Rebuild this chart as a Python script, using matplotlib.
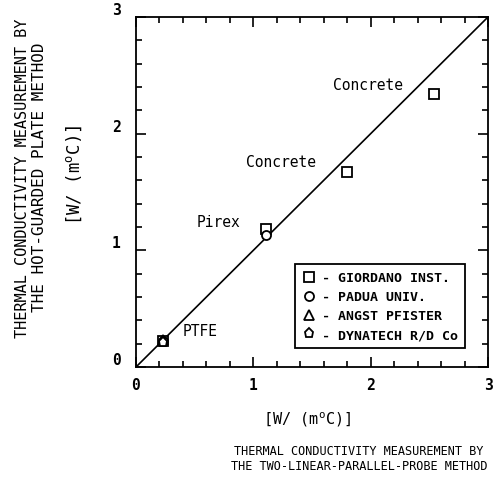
import matplotlib
matplotlib.use("Agg")
import matplotlib.pyplot as plt
from matplotlib.lines import Line2D
from matplotlib.ticker import MultipleLocator

plt.rcParams['font.family'] = ['DejaVu Sans Mono']

# data (W/(m C))
giordano_x = [2.54, 1.795, 1.11, 0.23]
giordano_y = [2.34, 1.67, 1.18, 0.225]
padua_x = [1.11, 0.23]
padua_y = [1.13, 0.22]
angst_x = [0.23]
angst_y = [0.235]
dynatech_x = [0.23]
dynatech_y = [0.215]

labels = ["Concrete", "Concrete", "Pirex", "PTFE"]
label_x = [1.68, 0.94, 0.52, 0.40]
label_y = [2.42, 1.76, 1.25, 0.31]

legend_names = ["GIORDANO INST.", "PADUA UNIV.", "ANGST PFISTER", "DYNATECH R/D Co"]

fig = plt.figure(figsize=(4.97, 4.85), dpi=100)
ax = fig.add_axes([136/497, 1-368/485, 352/497, 350/485])

# y = x line
ax.plot([0, 3], [0, 3], color="black", lw=1.2)

mk = dict(mfc="white", mec="black", mew=1.3, ms=6.5, ls="none")
ax.plot(giordano_x, giordano_y, marker="s", **mk)
ax.plot(padua_x, padua_y, marker="o", **mk)
ax.plot(angst_x, angst_y, marker="^", **mk)
ax.plot(dynatech_x, dynatech_y, marker="p", **mk)

for t, x, y in zip(labels, label_x, label_y):
    ax.text(x, y, t, fontsize=10.5, va="center", ha="left")

ax.set_xlim(0, 3)
ax.set_ylim(0, 3)
ax.xaxis.set_major_locator(MultipleLocator(1))
ax.yaxis.set_major_locator(MultipleLocator(1))
ax.xaxis.set_minor_locator(MultipleLocator(0.2))
ax.yaxis.set_minor_locator(MultipleLocator(0.2))
ax.tick_params(which="both", direction="in", top=True, right=True, width=1.2)
ax.tick_params(which="major", length=7)
ax.tick_params(which="minor", length=4)
ax.tick_params(axis="x", pad=7, labelsize=10.5)
ax.tick_params(axis="y", pad=11, labelsize=10.5)
for lab in ax.get_xticklabels() + ax.get_yticklabels():
    lab.set_fontweight("bold")
for lab in ax.get_yticklabels():
    lab.set_va("bottom")
for s in ax.spines.values():
    s.set_linewidth(1.3)

# legend
handles = [Line2D([], [], marker=m, **mk) for m in ["s", "o", "^", "p"]]
leg = ax.legend(handles, ["- " + n for n in legend_names], loc="upper left",
                bbox_to_anchor=((295-136)/352, (368-265)/350), borderaxespad=0,
                fancybox=False, edgecolor="black", framealpha=1,
                prop={"size": 9.5, "weight": "bold"}, handlelength=1.0,
                handletextpad=0.5, labelspacing=0.45, borderpad=0.55)
leg.get_frame().set_linewidth(1.3)

# axis titles
fig.text(23/497, 1-178/485, "THERMAL CONDUCTIVITY MEASUREMENT BY", rotation=90,
         ha="center", va="center", fontsize=11)
fig.text(40/497, 1-177/485, "THE HOT-GUARDED PLATE METHOD", rotation=90,
         ha="center", va="center", fontsize=11.5)
fig.text(74/497, 1-175/485, r"[W/ (m$^\mathregular{o}$C)]", rotation=90,
         ha="center", va="center", fontsize=12.5)

fig.text(307/497, 1-420/485, r"[W/ (m$^\mathregular{o}$C)]",
         ha="center", va="center", fontsize=11)
fig.text(359/497, 1-452/485, "THERMAL CONDUCTIVITY MEASUREMENT BY",
         ha="center", va="center", fontsize=8.6)
fig.text(359/497, 1-467/485, "THE TWO-LINEAR-PARALLEL-PROBE METHOD",
         ha="center", va="center", fontsize=8.6)

fig.savefig("out.png", dpi=100)
